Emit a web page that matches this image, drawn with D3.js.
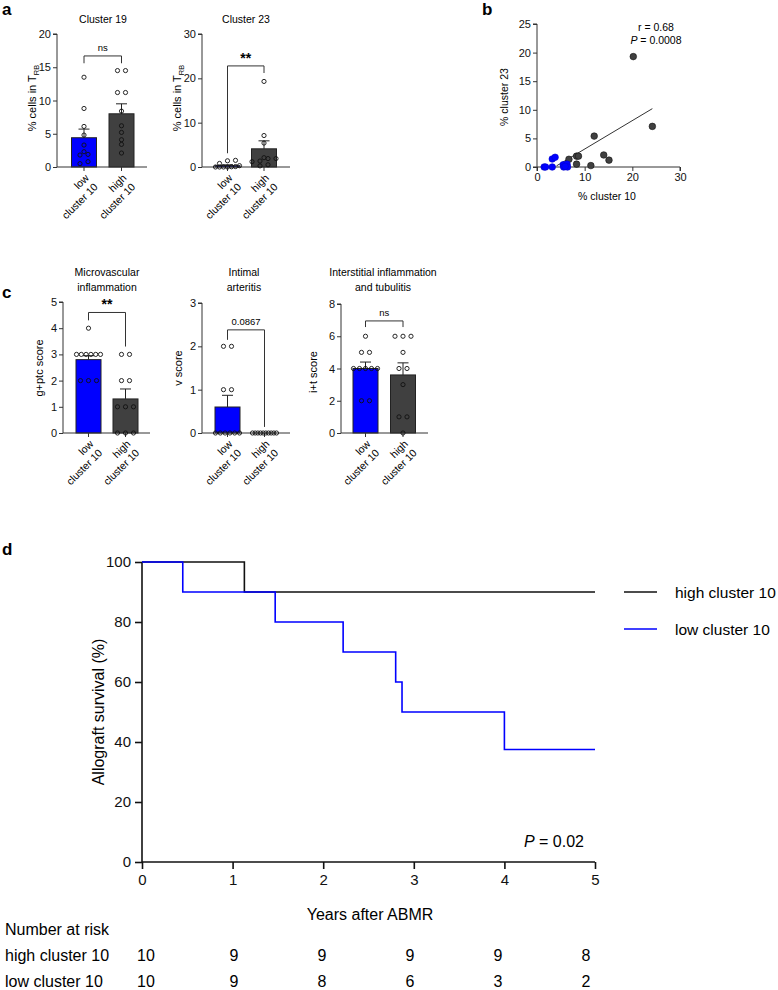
<!DOCTYPE html>
<html><head><meta charset="utf-8">
<script src="https://cdn.jsdelivr.net/npm/d3@7"></script>
<style>body{margin:0;background:#fff} svg{display:block;font-family:"Liberation Sans",Arial,sans-serif}</style>
</head><body><svg id="c" width="778" height="990"></svg>
<script>
// ---------------- DATA ----------------
const groupLabels = [["low","cluster 10"],["high","cluster 10"]];
// panel a
const c19Low  = [13.5, 8.8, 6.1, 4.8, 3.3, 2.3, 1.9, 1.8, 0.8, 0.5];
const c19High = [14.5, 14.5, 11.2, 11.2, 8.4, 6.2, 5.2, 4.1, 3.4, 2.1];
const c19Mean = [4.4, 8.0];
const c19Sem  = [1.3, 1.5];
const c23Low  = [1.5, 1.4, 0.8, 0.3, 0.1, 0.05, 0, 0, 0, 0];
const c23High = [19.3, 7.1, 5.4, 2.1, 1.9, 1.9, 1.35, 1.2, 0.5, 0.25];
const c23Mean = [0.3, 4.1];
const c23Sem  = [0.18, 1.8];
// panel b
const scatLowX  = [1.5, 1.8, 3.2, 3.8, 3.2, 5.5, 6.3, 5.6, 6.4, 5.9];
const scatLowY  = [0, 0, 1.4, 1.7, 0, 0.4, 0.5, 0, 0, 0.1];
const scatHighX = [6.7, 8.3, 8.7, 8.3, 11.3, 12.0, 14.0, 15.1, 20.2, 24.2];
const scatHighY = [1.35, 1.9, 1.9, 0.5, 0.25, 5.4, 2.1, 1.2, 19.3, 7.1];
const fitX = [4.1, 24.2];
const fitY = [0.2, 10.2];
// panel c
const gptcLow  = [4, 3, 3, 3, 3, 3, 3, 2, 2, 2];
const gptcHigh = [3, 3, 2, 2, 1, 1, 1, 0, 0, 0];
const gptcMean = [2.8, 1.3];
const gptcSem  = [0.15, 0.38];
const vLow  = [2, 2, 1, 1, 0, 0, 0, 0, 0, 0];
const vHigh = [0, 0, 0, 0, 0, 0, 0, 0, 0, 0];
const vMean = [0.6, 0];
const vSem  = [0.27, 0];
const itLow  = [6, 5, 5, 4, 4, 4, 4, 4, 2, 2];
const itHigh = [6, 6, 6, 5, 4, 4, 3, 1, 1, 0];
const itMean = [4.0, 3.6];
const itSem  = [0.4, 0.75];
// panel d
const kmHighT = [0, 1.13, 5];
const kmHighS = [100, 90, 90];
const kmLowT  = [0, 0.45, 1.47, 2.22, 2.8, 2.87, 4.0, 5];
const kmLowS  = [100, 90, 80, 70, 60, 50, 37.5, 37.5];
const riskYears = [0, 1, 2, 3, 4, 5];
const riskHigh = [10, 9, 9, 9, 9, 8];
const riskLow  = [10, 9, 8, 6, 3, 2];
const kmTicksX = [0, 1, 2, 3, 4, 5];
const kmTicksY = [0, 20, 40, 60, 80, 100];

// ---------------- DRAW ----------------
const svg = d3.select("#c");
const BLUE = "#0000ff", GREY = "#404040", INK = "#222";
const FF = '"Liberation Sans",Arial,sans-serif';

function panelLabel(t, x, y){
  svg.append("text").attr("x", x).attr("y", y).attr("font-size", 17).attr("font-weight", "bold").text(t);
}

function dodge(vals, y, cx){
  const idx = vals.map((v,i)=>i).sort((a,b)=>vals[a]-vals[b]);
  const rows = []; let cur = null;
  idx.forEach(i=>{
    const py = y(vals[i]);
    if (cur && Math.abs(cur.y0 - py) < 3.2) cur.items.push(i);
    else { cur = {y0: py, items:[i]}; rows.push(cur); }
  });
  const out = [];
  rows.forEach(r=>{
    const n = r.items.length;
    const sp = n > 1 ? Math.min(8, 24/(n-1)) : 0;
    r.items.forEach((i,k)=>out.push({x: cx + (k-(n-1)/2)*sp, y: y(vals[i])}));
  });
  return out;
}

function barPanel(cfg){
  const g = svg.append("g");
  const y = d3.scaleLinear().domain([0, cfg.max]).range([cfg.y0, cfg.y1]);
  const x = d3.scalePoint().domain([0,1]).range(cfg.cx);
  const bw = 25;
  const colors = [BLUE, GREY];
  g.selectAll("rect.bar").data(cfg.means).join("rect")
    .attr("x", (d,i)=>x(i)-bw/2).attr("width", bw)
    .attr("y", d=>y(d)).attr("height", d=>y(0)-y(d))
    .attr("fill", (d,i)=>colors[i]).attr("stroke", INK).attr("stroke-width", 1);
  cfg.means.forEach((m,i)=>{
    const s = cfg.sems[i];
    if (s <= 0) return;
    g.append("line").attr("x1", x(i)).attr("x2", x(i)).attr("y1", y(m)).attr("y2", y(m+s)).attr("stroke", INK).attr("stroke-width", 1);
    g.append("line").attr("x1", x(i)-5.5).attr("x2", x(i)+5.5).attr("y1", y(m+s)).attr("y2", y(m+s)).attr("stroke", INK).attr("stroke-width", 1);
  });
  const ya = d3.axisLeft(y).tickValues(cfg.ticks).tickSize(4).tickPadding(2).tickFormat(d3.format("d"));
  const ax = g.append("g").attr("transform", `translate(${cfg.ax},0)`).call(ya);
  ax.select(".domain").attr("stroke", "#333").attr("d", `M-4,${y(cfg.max)}H0V${y(0)}`);
  ax.selectAll("line").attr("stroke", "#333");
  ax.selectAll("text").attr("font-size", 11).attr("font-family", FF).attr("fill", "#111");
  g.append("line").attr("x1", cfg.ax).attr("x2", cfg.xEnd).attr("y1", y(0)).attr("y2", y(0)).attr("stroke", "#333").attr("stroke-width", 1);
  [0,1].forEach(i=>g.append("line").attr("x1", x(i)).attr("x2", x(i)).attr("y1", y(0)).attr("y2", y(0)+4).attr("stroke", "#333"));
  [cfg.low, cfg.high].forEach((vals,i)=>{
    g.selectAll(null).data(dodge(vals, y, x(i))).join("circle")
      .attr("cx", d=>d.x).attr("cy", d=>d.y).attr("r", 2.1)
      .attr("fill", "none").attr("stroke", "#111").attr("stroke-width", 0.9);
  });
  const b = cfg.bracket;
  g.append("path").attr("d", `M${x(0)},${y(b[1])}V${y(b[0])}H${x(1)}V${y(b[2])}`)
    .attr("fill", "none").attr("stroke", "#333").attr("stroke-width", 1);
  g.append("text").attr("x", (x(0)+x(1))/2).attr("y", y(b[0]) - (cfg.starLabel ? 3 : 5))
    .attr("text-anchor", "middle").attr("font-size", cfg.starLabel ? 14 : 9.5)
    .attr("font-weight", cfg.starLabel ? "bold" : "normal").text(cfg.label);
  cfg.title.forEach((t,k)=>g.append("text").attr("x", cfg.titleX).attr("y", cfg.titleY + k*15)
    .attr("text-anchor", "middle").attr("font-size", 10.5).text(t));
  const yl = g.append("text").attr("transform", `translate(${cfg.ylx},${cfg.yly}) rotate(-90)`)
    .attr("text-anchor", "middle").attr("font-size", 11);
  yl.append("tspan").text(cfg.ylabel);
  if (cfg.sub) yl.append("tspan").attr("font-size", 7.5).attr("dy", 3).text(cfg.sub);
  groupLabels.forEach((lab,i)=>{
    const t = g.append("text").attr("transform", `translate(${x(i)+3},${y(0)+9}) rotate(-45)`)
      .attr("text-anchor", "end").attr("font-size", 10.5);
    lab.forEach((s,k)=>t.append("tspan").attr("x", 0).attr("dy", k===0 ? "0.35em" : "1.2em").text(s));
  });
}

panelLabel("a", 2, 15);
barPanel({ax:57, xEnd:147, y0:167, y1:34, max:20, ticks:[0,5,10,15,20], cx:[84,121.5],
  means:c19Mean, sems:c19Sem, low:c19Low, high:c19High, bracket:[16.7,15.6,15.6], label:"ns",
  title:["Cluster 19"], titleX:103, titleY:23, ylabel:"% cells in T", sub:"RB", ylx:36, yly:98});
barPanel({ax:202, xEnd:290, y0:167, y1:34, max:30, ticks:[0,10,20,30], cx:[227.5,264],
  means:c23Mean, sems:c23Sem, low:c23Low, high:c23High, bracket:[22.8,3.1,21.2], label:"**", starLabel:true,
  title:["Cluster 23"], titleX:246, titleY:23, ylabel:"% cells in T", sub:"RB", ylx:181, yly:98});

// panel b scatter
panelLabel("b", 482, 15);
{
  const g = svg.append("g");
  const x = d3.scaleLinear().domain([0,30]).range([537,680]);
  const y = d3.scaleLinear().domain([0,25]).range([167,24]);
  const xa = g.append("g").attr("transform", "translate(0,167)").call(d3.axisBottom(x).tickValues([0,10,20,30]).tickSize(4).tickPadding(2));
  const ya = g.append("g").attr("transform", "translate(537,0)").call(d3.axisLeft(y).tickValues([0,5,10,15,20,25]).tickSize(4).tickPadding(2));
  [xa, ya].forEach(a=>{a.selectAll("text").attr("font-size", 11).attr("font-family", FF).attr("fill", "#111");
    a.selectAll("line,path").attr("stroke", "#333");});
  xa.select(".domain").attr("d", "M537,4V0H680V4");
  ya.select(".domain").attr("d", "M-4,24H0V167H-4");
  g.append("line").attr("x1", x(fitX[0])).attr("x2", x(fitX[1])).attr("y1", y(fitY[0])).attr("y2", y(fitY[1])).attr("stroke", "#333").attr("stroke-width", 1);
  const hi = scatHighX.map((v,i)=>[v, scatHighY[i]]);
  const lo = scatLowX.map((v,i)=>[v, scatLowY[i]]);
  g.selectAll(null).data(hi).join("circle").attr("cx", d=>x(d[0])).attr("cy", d=>y(d[1])).attr("r", 3.3)
    .attr("fill", GREY).attr("stroke", "#111").attr("stroke-width", 0.6);
  g.selectAll(null).data(lo).join("circle").attr("cx", d=>x(d[0])).attr("cy", d=>y(d[1])).attr("r", 3.3)
    .attr("fill", BLUE).attr("stroke", "#0000cc").attr("stroke-width", 0.6);
  g.append("text").attr("x", 656).attr("y", 31).attr("text-anchor", "middle").attr("font-size", 10.5).text("r = 0.68");
  const p = g.append("text").attr("x", 656).attr("y", 44).attr("text-anchor", "middle").attr("font-size", 10.5);
  p.append("tspan").attr("font-style", "italic").text("P");
  p.append("tspan").text(" = 0.0008");
  g.append("text").attr("x", 607).attr("y", 200).attr("text-anchor", "middle").attr("font-size", 10.5).text("% cluster 10");
  g.append("text").attr("transform", "translate(508,97) rotate(-90)").attr("text-anchor", "middle").attr("font-size", 10.5).text("% cluster 23");
}

// panel c
panelLabel("c", 2, 298);
barPanel({ax:63, xEnd:150, y0:433, y1:302, max:5, ticks:[0,1,2,3,4,5], cx:[88.5,125.5],
  means:gptcMean, sems:gptcSem, low:gptcLow, high:gptcHigh, bracket:[4.6,4.3,3.3], label:"**", starLabel:true,
  title:["Microvascular","inflammation"], titleX:107, titleY:276, ylabel:"g+ptc score", ylx:43, yly:368});
barPanel({ax:202, xEnd:290, y0:433, y1:303, max:3, ticks:[0,1,2,3], cx:[227.5,264.5],
  means:vMean, sems:vSem, low:vLow, high:vHigh, bracket:[2.38,2.15,0.14], label:"0.0867",
  title:["Intimal","arteritis"], titleX:244, titleY:276, ylabel:"v score", ylx:182, yly:368});
barPanel({ax:341, xEnd:428, y0:433, y1:304, max:8, ticks:[0,2,4,6,8], cx:[365.5,403],
  means:itMean, sems:itSem, low:itLow, high:itHigh, bracket:[6.95,6.57,6.57], label:"ns",
  title:["Interstitial inflammation","and tubulitis"], titleX:383, titleY:276, ylabel:"i+t score", ylx:317, yly:372});

// panel d
panelLabel("d", 2, 555);
{
  const g = svg.append("g");
  const x = d3.scaleLinear().domain([0,5]).range([142,595]);
  const y = d3.scaleLinear().domain([0,100]).range([862,562]);
  const xa = g.append("g").attr("transform", "translate(0,862)").call(d3.axisBottom(x).tickValues(kmTicksX).tickSize(7).tickPadding(5).tickFormat(d3.format("d")));
  const ya = g.append("g").attr("transform", "translate(142,0)").call(d3.axisLeft(y).tickValues(kmTicksY).tickSize(7).tickPadding(4).tickFormat(d3.format("d")));
  [xa, ya].forEach(a=>{a.selectAll("text").attr("font-size", 15).attr("font-family", FF).attr("fill", "#111");
    a.selectAll("line,path").attr("stroke", "#111").attr("stroke-width", 1.6);});
  xa.select(".domain").attr("d", "M142,0H595");
  ya.select(".domain").attr("d", "M0,562V862");
  const line = d3.line().x(d=>x(d[0])).y(d=>y(d[1])).curve(d3.curveStepAfter);
  g.append("path").attr("d", line(kmHighT.map((t,i)=>[t, kmHighS[i]]))).attr("fill", "none").attr("stroke", "#111").attr("stroke-width", 1.6);
  g.append("path").attr("d", line(kmLowT.map((t,i)=>[t, kmLowS[i]]))).attr("fill", "none").attr("stroke", BLUE).attr("stroke-width", 1.6);
  [["high cluster 10", "#111", 592], ["low cluster 10", BLUE, 629]].forEach(([t,c,yy])=>{
    g.append("line").attr("x1", 624).attr("x2", 657).attr("y1", yy).attr("y2", yy).attr("stroke", c).attr("stroke-width", 1.6);
    g.append("text").attr("x", 675).attr("y", yy+6).attr("font-size", 15.5).text(t);
  });
  const p = g.append("text").attr("x", 584).attr("y", 847).attr("text-anchor", "end").attr("font-size", 16);
  p.append("tspan").attr("font-style", "italic").text("P");
  p.append("tspan").text(" = 0.02");
  g.append("text").attr("x", 370).attr("y", 920).attr("text-anchor", "middle").attr("font-size", 16).text("Years after ABMR");
  g.append("text").attr("transform", "translate(104,712) rotate(-90)").attr("text-anchor", "middle").attr("font-size", 16).text("Allograft survival (%)");
  const rx = d3.scaleLinear().domain([0,5]).range([146,586]);
  g.append("text").attr("x", 5).attr("y", 935).attr("font-size", 16).text("Number at risk");
  g.append("text").attr("x", 5).attr("y", 961).attr("font-size", 16).text("high cluster 10");
  g.append("text").attr("x", 5).attr("y", 987).attr("font-size", 16).text("low cluster 10");
  g.selectAll(null).data(riskHigh).join("text").attr("x", (d,i)=>rx(riskYears[i])).attr("y", 961)
    .attr("text-anchor", "middle").attr("font-size", 16).text(d=>d);
  g.selectAll(null).data(riskLow).join("text").attr("x", (d,i)=>rx(riskYears[i])).attr("y", 987)
    .attr("text-anchor", "middle").attr("font-size", 16).text(d=>d);
}
</script></body></html>
